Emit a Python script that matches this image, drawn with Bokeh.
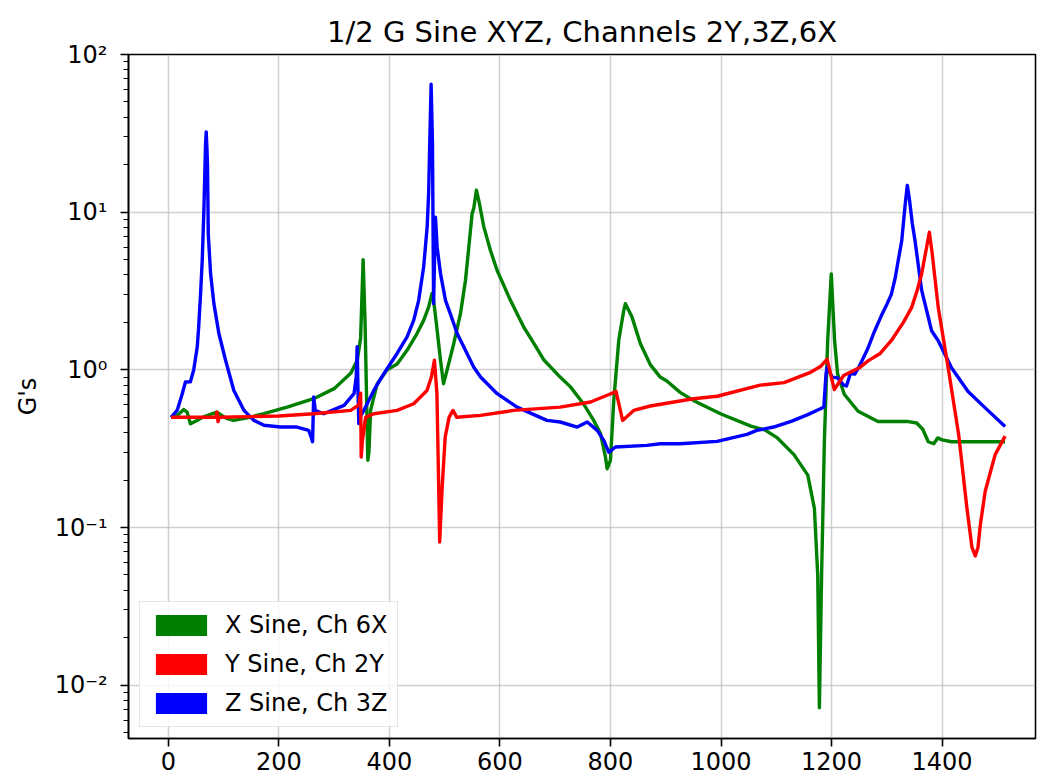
from bokeh.plotting import figure
from bokeh.models import Range1d, FixedTicker, Legend, LegendItem
from bokeh.embed import file_html
from bokeh.resources import INLINE

TITLE = "1/2 G Sine XYZ, Channels 2Y,3Z,6X"
Y_LABEL = "G's"
series_labels = ["X Sine, Ch 6X", "Y Sine, Ch 2Y", "Z Sine, Ch 3Z"]
series_colors = ["green", "red", "blue"]
x_ticks = [0, 200, 400, 600, 800, 1000, 1200, 1400]
y_ticks = [0.01, 0.1, 1, 10, 100]
y_tick_labels = ["10\u207b\u00b2", "10\u207b\u00b9", "10\u2070", "10\u00b9", "10\u00b2"]

# X Sine, Ch 6X (green)
x_freq = [5, 15, 28, 34, 40, 52, 62, 75, 88, 98, 107, 118, 143, 173, 215, 263, 300, 330,
          342, 348, 352.5, 356, 359, 361, 363, 366, 378, 396, 414, 432, 450, 462, 471, 477,
          480, 485, 492.5, 498, 504.5, 516.5, 528.6, 537.7, 543.7, 549.7, 552.7, 557.5, 561.7,
          570.8, 583, 595, 619, 643, 660, 680, 709, 727.6, 751, 769.6, 782, 791, 794, 800, 806,
          815, 824, 827, 839, 854, 872, 890, 902, 926, 950, 999, 1054, 1080, 1102, 1132, 1157,
          1169, 1175, 1178, 1182, 1187, 1193, 1199.5, 1205.5, 1211, 1223, 1248, 1284, 1339,
          1354, 1365, 1375, 1385, 1392, 1400, 1417, 1514]
x_gs = [0.50, 0.51, 0.56, 0.54, 0.455, 0.478, 0.50, 0.52, 0.54, 0.51, 0.49, 0.478, 0.497,
        0.527, 0.58, 0.656, 0.76, 0.95, 1.15, 1.6, 5.0, 2.0, 0.6, 0.267, 0.3, 0.553, 0.817, 1.0,
        1.09, 1.33, 1.70, 2.06, 2.5, 3.04, 2.76, 1.97, 1.15, 0.817, 1.0, 1.47, 2.27, 3.7, 6.0,
        9.8, 10.6, 13.8, 11.9, 8.1, 5.7, 4.27, 2.76, 1.87, 1.5, 1.15, 0.90, 0.78, 0.61, 0.478,
        0.394, 0.28, 0.236, 0.267, 0.64, 1.54, 2.38, 2.63, 2.16, 1.47, 1.08, 0.90, 0.85, 0.72,
        0.64, 0.527, 0.44, 0.415, 0.37, 0.29, 0.215, 0.132, 0.05, 0.0072, 0.05, 0.35, 1.53,
        4.06, 1.53, 0.94, 0.70, 0.546, 0.47, 0.47, 0.46, 0.42, 0.35, 0.34, 0.37, 0.36, 0.35,
        0.35]

# Y Sine, Ch 2Y (red)
y_freq = [5, 30, 60, 86, 88, 90, 92, 150, 200, 263, 330, 345, 348, 349, 351, 357, 372, 414,
          444, 468, 476, 481.5, 486, 489, 491, 495.5, 501, 508, 515, 522, 565, 625, 709, 764,
          794, 807, 810, 822, 842, 872, 950, 993, 1071, 1114, 1162, 1180, 1192, 1205, 1222,
          1252, 1266, 1288, 1308, 1330, 1345, 1355, 1363, 1372, 1377, 1382, 1393, 1411, 1430,
          1445, 1454, 1460, 1465, 1469, 1478, 1496, 1514]
y_gs = [0.50, 0.50, 0.50, 0.50, 0.54, 0.47, 0.50, 0.505, 0.51, 0.527, 0.553, 0.60, 0.71, 0.28,
        0.35, 0.50, 0.527, 0.553, 0.61, 0.74, 0.9, 1.15, 0.71, 0.2, 0.081, 0.18, 0.375, 0.50,
        0.553, 0.50, 0.514, 0.553, 0.58, 0.625, 0.69, 0.72, 0.73, 0.478, 0.553, 0.59, 0.656,
        0.68, 0.80, 0.83, 0.965, 1.05, 1.17, 0.75, 0.92, 1.04, 1.14, 1.27, 1.53, 2.0, 2.49, 3.2,
        4.06, 6.0, 7.46, 5.5, 2.49, 1.03, 0.388, 0.132, 0.075, 0.066, 0.075, 0.103, 0.17, 0.29,
        0.38]

# Z Sine, Ch 3Z (blue)
z_freq = [5, 16, 25, 31, 40, 46, 52.4, 55, 58.4, 61.4, 64.4, 67.4, 68.6, 70, 71, 72.3, 76.5,
          82.5, 91.5, 103.6, 118.6, 137, 154.8, 173, 203, 233, 254, 259, 261, 263, 266, 281,
          318, 336, 340, 341.7, 343, 344.7, 347, 353.7, 371.8, 390, 414, 432, 444, 453, 462,
          468.4, 471, 473, 475.5, 478, 479, 480, 483.4, 486.4, 492.5, 501.5, 510, 522.6, 534.5,
          552.7, 565, 595, 631, 685, 709, 740, 758, 776, 788, 797, 809, 866, 890, 926, 993, 1047,
          1065, 1095, 1127, 1157, 1180, 1186, 1190, 1192, 1201, 1211, 1222, 1227, 1234, 1242,
          1250, 1265, 1276, 1290, 1300, 1308, 1315, 1320, 1327, 1333, 1337, 1341, 1346, 1351,
          1363, 1381, 1393, 1417, 1447, 1478, 1514]
z_gs = [0.50, 0.553, 0.70, 0.837, 0.84, 1.0, 1.40, 1.87, 3.04, 4.95, 10.3, 27, 32.3, 25, 19.4,
        7.3, 4.08, 2.63, 1.70, 1.15, 0.74, 0.553, 0.478, 0.445, 0.434, 0.434, 0.413, 0.37, 0.35,
        0.672, 0.553, 0.527, 0.595, 0.706, 0.9, 1.40, 0.8, 0.456, 0.5, 0.553, 0.74, 0.946, 1.27,
        1.62, 2.06, 2.76, 4.49, 8.1, 13.1, 27, 64.8, 27, 8.1, 2.63, 9.3, 6.0, 4.08, 2.76, 2.28,
        1.70, 1.40, 1.04, 0.90, 0.706, 0.58, 0.478, 0.467, 0.434, 0.467, 0.413, 0.357, 0.30,
        0.324, 0.332, 0.34, 0.34, 0.352, 0.39, 0.413, 0.434, 0.471, 0.52, 0.567, 0.58, 0.94,
        1.04, 0.90, 0.89, 0.80, 0.79, 0.946, 0.94, 1.05, 1.35, 1.7, 2.2, 2.6, 3.0, 3.8, 4.8, 6.6,
        11, 14.8, 12, 8.5, 6.6, 3.2, 1.77, 1.53, 1.03, 0.73, 0.574, 0.438]

FONT = "DejaVu Sans"

p = figure(width=1038, height=782, output_backend="svg", toolbar_location=None,
           y_axis_type="log", x_range=Range1d(-72, 1569),
           y_range=Range1d(10 ** -2.338, 100),
           min_border_left=128, min_border_right=3, min_border_top=54, min_border_bottom=44)

p.background_fill_color = "white"
p.border_fill_color = "white"
p.outline_line_color = "black"
p.outline_line_width = 1.6

p.title.text = TITLE
p.title.align = "center"
p.title.text_font = FONT
p.title.text_font_size = "29px"
p.title.text_font_style = "normal"
p.title.text_color = "black"
p.title.standoff = 12

# axes
p.xaxis.ticker = FixedTicker(ticks=x_ticks)
minor = [m * 10.0 ** d for d in range(-3, 2) for m in range(2, 10)]
p.yaxis.ticker = FixedTicker(ticks=y_ticks, minor_ticks=minor)
p.yaxis.major_label_overrides = {t: lab for t, lab in zip(y_ticks, y_tick_labels)}
p.yaxis.axis_label = Y_LABEL
p.yaxis.axis_label_text_font = FONT
p.yaxis.axis_label_text_font_size = "24px"
p.yaxis.axis_label_text_font_style = "normal"
p.yaxis.axis_label_text_color = "black"
p.yaxis.axis_label_standoff = 10
for ax in (p.xaxis, p.yaxis):
    ax.major_label_text_font = FONT
    ax.major_label_text_font_size = "24px"
    ax.major_label_text_color = "black"
    ax.axis_line_color = "black"
    ax.axis_line_width = 1.6
    ax.major_tick_line_color = "black"
    ax.major_tick_line_width = 1.6
    ax.major_tick_out = 8
    ax.major_tick_in = 0
p.xaxis.major_label_standoff = 5
p.yaxis.major_label_standoff = 13
p.xaxis.minor_tick_line_color = None
p.yaxis.minor_tick_line_color = "black"
p.yaxis.minor_tick_line_width = 1.2
p.yaxis.minor_tick_out = 5
p.yaxis.minor_tick_in = 0

for g in (p.xgrid, p.ygrid):
    g.grid_line_color = "#b0b0b0"
    g.grid_line_alpha = 0.6
    g.grid_line_width = 1.5

# lines
LW = 3.4
p.line(x_freq, x_gs, line_color=series_colors[0], line_width=LW, line_join="round")
p.line(z_freq, z_gs, line_color=series_colors[2], line_width=LW, line_join="round")
p.line(y_freq, y_gs, line_color=series_colors[1], line_width=LW, line_join="round")

# legend patches (filled rectangles); a single NaN row so nothing is drawn in the plot
nan = float("nan")
items = []
for lab, col in zip(series_labels, series_colors):
    r = p.quad(left=[nan], right=[nan], top=[nan], bottom=[nan], fill_color=col, line_color=None)
    items.append(LegendItem(label=lab, renderers=[r], index=0))

legend = Legend(items=items, location=(11, 11), glyph_width=64, glyph_height=26,
                label_standoff=12, padding=9, spacing=11, margin=0,
                label_text_font=FONT, label_text_font_size="24px", label_text_color="black",
                border_line_color="#cccccc", border_line_width=1.5,
                background_fill_color="white", background_fill_alpha=0.8)
p.add_layout(legend, "center")

open("out.html", "w").write(file_html(p, INLINE))
